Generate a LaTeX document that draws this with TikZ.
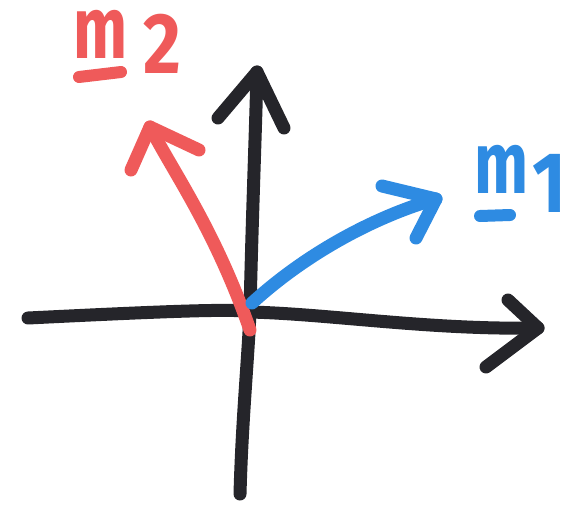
\documentclass[tikz,border=0pt]{standalone}
\usepackage{fontspec}
\setmainfont{Fira Sans}
\definecolor{ink}{HTML}{25252A}
\definecolor{redink}{HTML}{EF5A5A}
\definecolor{blueink}{HTML}{2E8BE2}
\tikzset{
  pen/.style={line width=13pt, line cap=round, line join=round},
  lbl/.style={inner sep=0pt, anchor=base},
  bigm/.style={lbl, font=\fontsize{80}{80}\selectfont\bfseries, xscale=0.8, yscale=1.1},
  digit/.style={lbl, font=\fontsize{86}{86}\selectfont\bfseries, xscale=0.85}
}
\begin{document}
\begin{tikzpicture}[x=1pt,y=-1pt]
\useasboundingbox (0,0) rectangle (585,511);
% coordinates
\coordinate (xl) at (28,318);
\coordinate (xr) at (538,328);
\coordinate (yb) at (240,494);
\coordinate (yt) at (257,72);
\coordinate (o) at (250,312);
% horizontal axis
\draw[pen, ink] (xl) .. controls (150,312) and (240,308) .. (o)
  .. controls (330,314) and (430,330) .. (xr);
\draw[pen, ink] (508,300) -- (xr) -- (486,367);
% vertical axis
\draw[pen, ink] (yb) .. controls (242,420) and (248,360) .. (o)
  .. controls (252,220) and (255,150) .. (yt);
\draw[pen, ink] (218,118) -- (yt) -- (284,128);
% red vector
\coordinate (r0) at (250,330);
\coordinate (r1) at (150,127);
\draw[pen, redink] (r0) .. controls (215,230) and (175,175) .. (r1);
\draw[pen, redink] (131,170) -- (r1) -- (199,150);
% blue vector
\coordinate (b0) at (252,303);
\coordinate (b1) at (436,199);
\draw[pen, blueink] (b0) .. controls (310,250) and (380,215) .. (b1);
\draw[pen, blueink] (382,186) -- (b1) -- (416,238);
% labels
\node[bigm, text=redink] (m2) at (101,58) {m};
\node[digit, text=redink] (d2) at (162,73) {2};
\draw[line width=12pt, line cap=round, redink] (m2.base) ++(-22,19) coordinate (u2a) -- ++(42,-5) coordinate (u2b);
\node[bigm, text=blueink] (m1) at (502,193) {m};
\node[digit, text=blueink] (d1) at (549,212) {1};
\draw[line width=12pt, line cap=round, blueink] (m1.base) ++(-22,23) coordinate (u1a) -- ++(30,-1) coordinate (u1b);
\end{tikzpicture}
\end{document}
